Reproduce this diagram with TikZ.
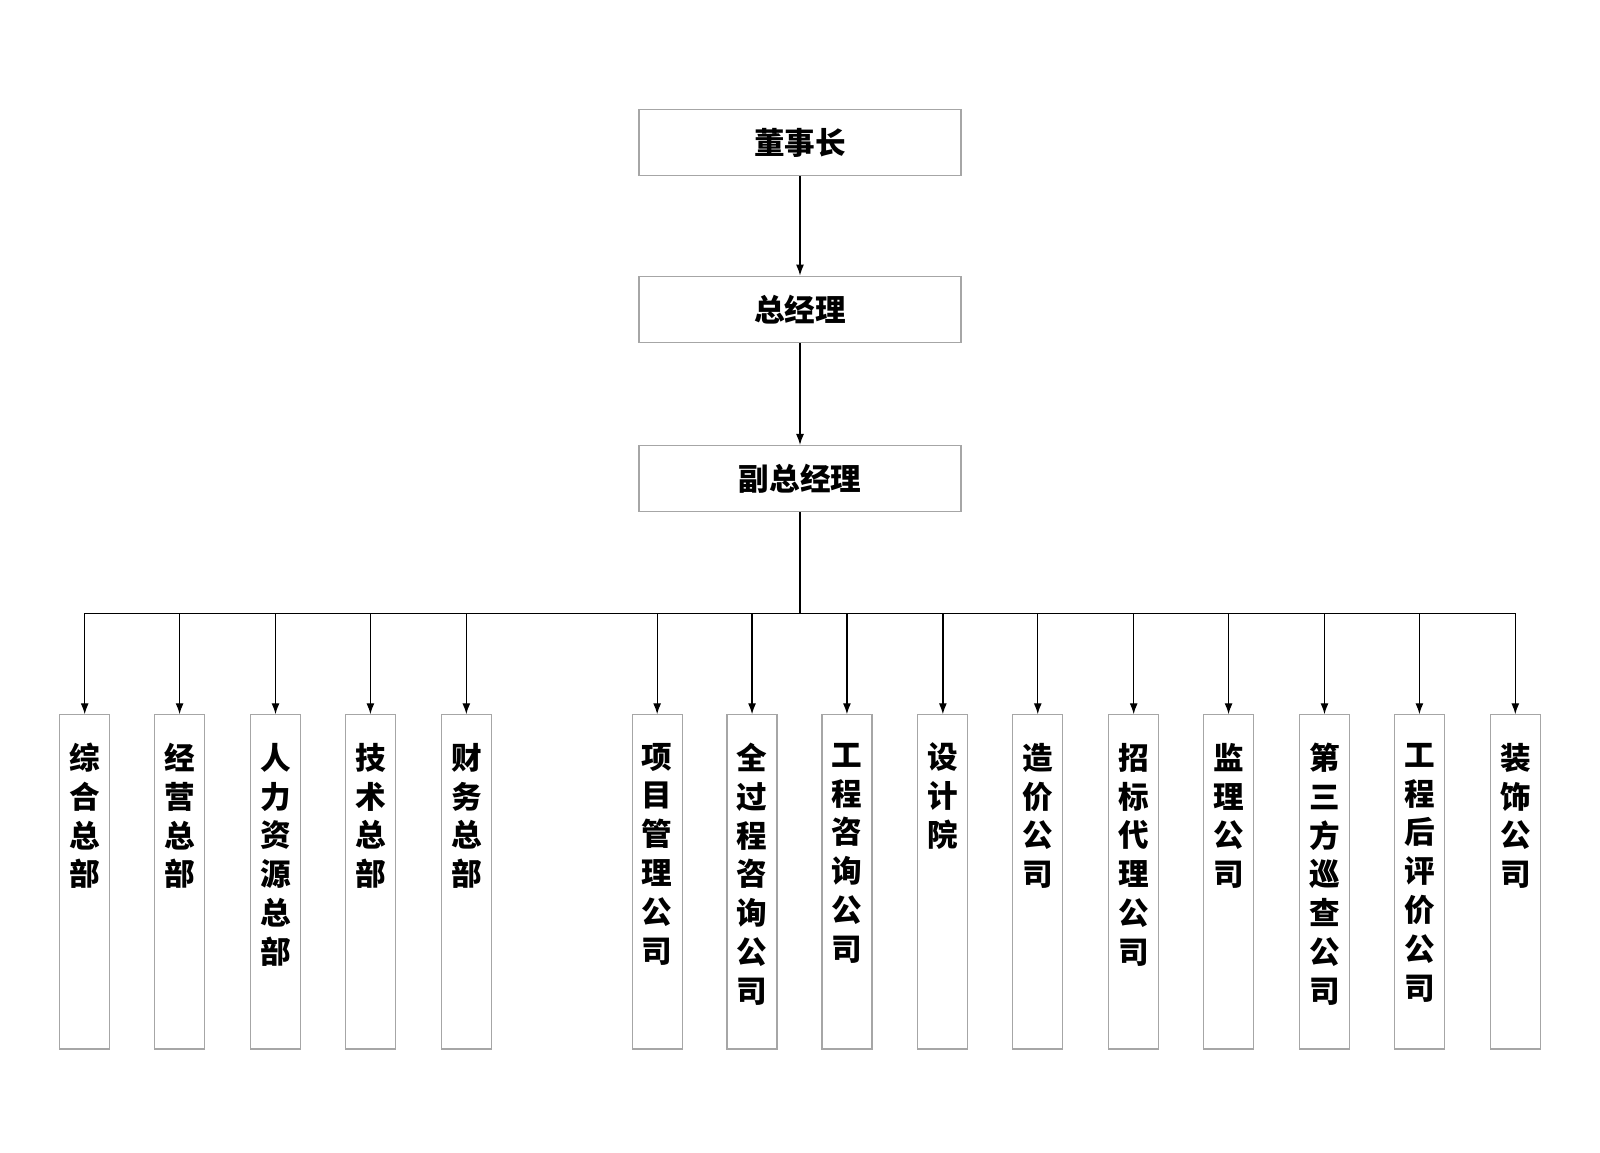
\documentclass[tikz,border=0pt]{standalone}
\usepackage{fontspec}
\usetikzlibrary{arrows.meta}
\newfontfamily\cjk{Noto Sans CJK SC}
\begin{document}
\begin{tikzpicture}[x=1.0204pt,y=-1.0204pt,
 top/.style={draw=gray!70,line width=1.2pt,minimum width=322pt,minimum height=66pt,font=\cjk\bfseries\fontsize{30.6}{30.6}\selectfont},
 col/.style={draw=gray!70,line width=1.2pt,minimum width=50pt,minimum height=334pt,anchor=north,inner sep=0pt},
 vt/.style={anchor=north,align=center,inner sep=0pt,font=\cjk\bfseries\fontsize{30.6}{38.8}\selectfont},
 arr/.style={-{Latex[length=11pt,width=8pt]},line width=1.3pt},
 ln/.style={line width=1.3pt}]
\useasboundingbox (0,0) rectangle (1568,1129);
\node[top] (a) at (784,140) {董事长};
\node[top] (b) at (784,303) {总经理};
\node[top] (c) at (784,469) {副总经理};
\draw[arr] (a) -- (b);
\draw[arr] (b) -- (c);
\coordinate (h) at (784,601);
\draw[ln] (c) -- (h);
\coordinate (hl) at (83,601);
\coordinate (hr) at (1485,601);
\draw[ln] (hl) -- (hr);
\foreach \x/\t [count=\i] in {83/综\\合\\总\\部,176/经\\营\\总\\部,270/人\\力\\资\\源\\总\\部,363/技\\术\\总\\部,457/财\\务\\总\\部,644/项\\目\\管\\理\\公\\司,737/全\\过\\程\\咨\\询\\公\\司,830/工\\程\\咨\\询\\公\\司,924/设\\计\\院,1017/造\\价\\公\\司,1111/招\\标\\代\\理\\公\\司,1204/监\\理\\公\\司,1298/第\\三\\方\\巡\\查\\公\\司,1391/工\\程\\后\\评\\价\\公\\司,1485/装\\饰\\公\\司}{
 \node[col] (n\i) at (\x,700) {};
 \node[vt] (t\i) at (\x,728) {\t};
 \coordinate (p\i) at (\x,601);
 \draw[arr] (p\i) -- (n\i.north);
}
\end{tikzpicture}
\end{document}
